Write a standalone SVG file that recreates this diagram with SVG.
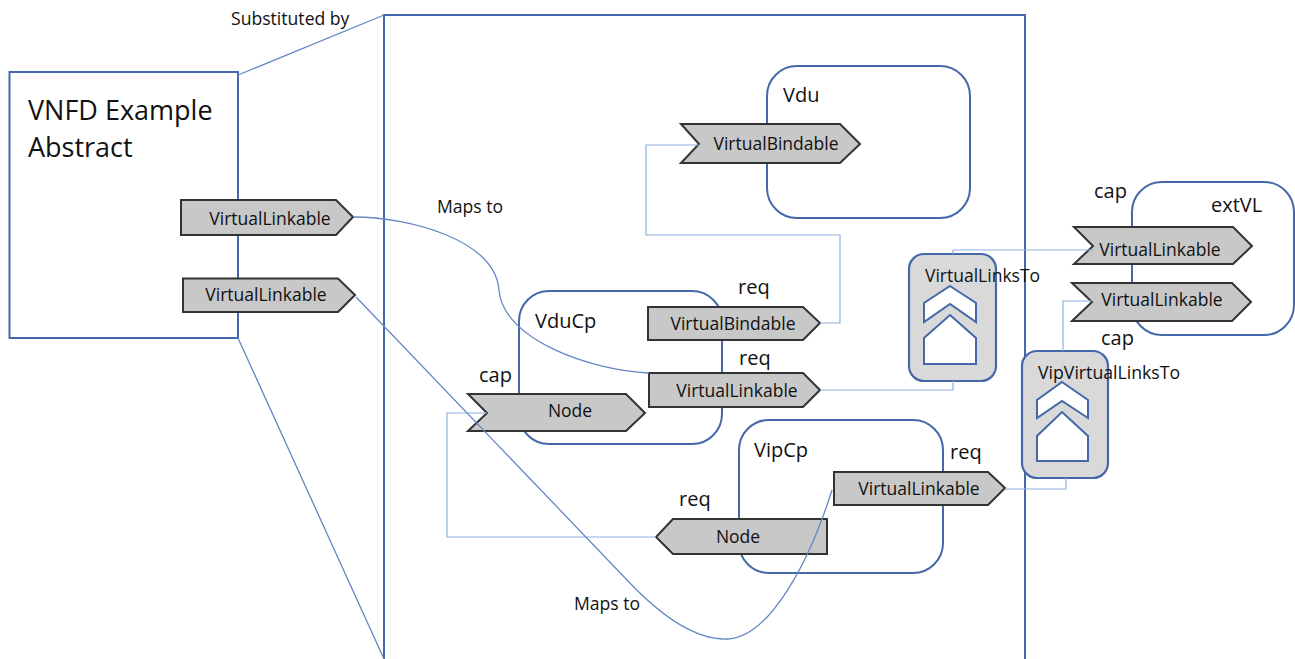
<svg xmlns="http://www.w3.org/2000/svg" width="1295" height="659" viewBox="0 0 1295 659">
<style>
text{font-family:"Open Sans","Noto Sans","Liberation Sans",sans-serif;fill:#111}
.box{fill:none;stroke:#4468a8;stroke-width:2}
.rnd{fill:#fff;stroke:#4468a8;stroke-width:2}
.tag{fill:#c8c8c8;stroke:#333;stroke-width:2}
.rel{fill:#d9d9d9;stroke:#4468a8;stroke-width:2.2}
.ico{fill:#fff;stroke:#4468a8;stroke-width:2}
.l{font-size:17.5px;text-anchor:middle}
.n{font-size:20px}
.s{font-size:17.600px}
.c{fill:none;stroke:#8fb0e0;stroke-width:1.2}
.m{fill:none;stroke:#6487c4;stroke-width:1.3}
</style>
<rect width="1295" height="659" fill="#fff"/>
<g id="bigBox"><path class="box" d="M384,659V15H1025V659"/></g>
<g id="abstract">
<rect class="box" x="9.5" y="72" width="228.500" height="266"/>
<text x="28" y="120" font-size="27">VNFD Example</text>
<text x="28" y="157" font-size="27">Abstract</text>
<path class="tag" d="M181,200H336L353,217L336,235H181Z"/>
<text class="l" x="270" y="225">VirtualLinkable</text>
<path class="tag" d="M183,278.500H338L355,295L338,312H183Z"/>
<text class="l" x="266" y="301">VirtualLinkable</text>
</g>
<g id="vdu">
<rect class="rnd" x="767" y="66" width="203" height="152" rx="30"/>
<text x="783" y="102" class="n">Vdu</text>
<path class="tag" d="M681,124H840L860,144L840,163H681L699,144Z"/>
<text class="l" x="776" y="150">VirtualBindable</text>
</g>
<g id="vduCp">
<rect class="rnd" x="519" y="291" width="203" height="153" rx="30"/>
<text x="535" y="328" class="n">VduCp</text>
<text x="738" y="294" class="n">req</text>
<text x="739" y="365" class="n">req</text>
<text x="479" y="382" class="n">cap</text>
<path class="tag" d="M648,307H803L820,323L803,340H648Z"/>
<text class="l" x="733" y="330">VirtualBindable</text>
<path class="tag" d="M649,373H803L820,390L803,407H649Z"/>
<text class="l" x="737" y="397">VirtualLinkable</text>
<path class="tag" d="M468,394H626L645,413L626,431H468L487,413Z"/>
<text class="l" x="570" y="417">Node</text>
</g>
<g id="vipCp">
<rect class="rnd" x="739" y="420" width="204" height="153" rx="30"/>
<text x="754" y="457" class="n">VipCp</text>
<text x="950" y="459" class="n">req</text>
<text x="679" y="506" class="n">req</text>
<path class="tag" d="M834,472H988L1005,488L988,505H834Z"/>
<text class="l" x="919" y="495">VirtualLinkable</text>
<path class="tag" d="M827,519H673L656,537L673,554H827Z"/>
<text class="l" x="738" y="543">Node</text>
</g>
<g id="extVL">
<rect class="rnd" x="1132" y="182" width="162" height="153" rx="30"/>
<text x="1211" y="212" class="n">extVL</text>
<text x="1094" y="198" class="n">cap</text>
<text x="1101" y="345" class="n">cap</text>
<path class="tag" d="M1074,227H1233L1252,246L1233,264H1074L1093,246Z"/>
<text class="l" x="1160" y="256">VirtualLinkable</text>
<path class="tag" d="M1072,283H1232L1251,302L1232,321H1072L1092,302Z"/>
<text class="l" x="1162" y="306">VirtualLinkable</text>
</g>
<g id="virtualLinksTo">
<rect class="rel" x="909" y="254" width="87" height="127" rx="15"/>
<path class="ico" d="M950,286L976,303V322L950,304L924,322V303Z"/>
<path class="ico" d="M950,315L976,338V364H924V338Z"/>
<text x="925" y="282" font-size="17.5">VirtualLinksTo</text>
</g>
<g id="vipVirtualLinksTo">
<rect class="rel" x="1022" y="351" width="86" height="127" rx="15"/>
<path class="ico" d="M1062,382L1088,400V418L1062,401L1037,418V400Z"/>
<path class="ico" d="M1062,412L1088,436V461H1037V436Z"/>
<text x="1038" y="379" font-size="17.7">VipVirtualLinksTo</text>
</g>
<text x="231" y="25" class="s">Substituted by</text>
<text x="437" y="213" class="s">Maps to</text>
<text x="574" y="610" class="s">Maps to</text>
<g id="connectors">
<path class="m" d="M238,75L384,15M238,338L384,659"/>
<path class="c" d="M820,323H840V235H646V145H699"/>
<path class="c" d="M820,390H953V381M953,254V250H1093"/>
<path class="c" d="M656,537H447V413H487"/>
<path class="c" d="M1005,489H1066V478M1063,351V301H1092"/>
<path class="m" d="M353,217C410,217 495,240 499,290C503,340 590,370 649,373"/>
<path class="m" d="M356,297L627,580C660,615 695,640 727,639C770,638 810,560 832,490"/>
</g>
</svg>
